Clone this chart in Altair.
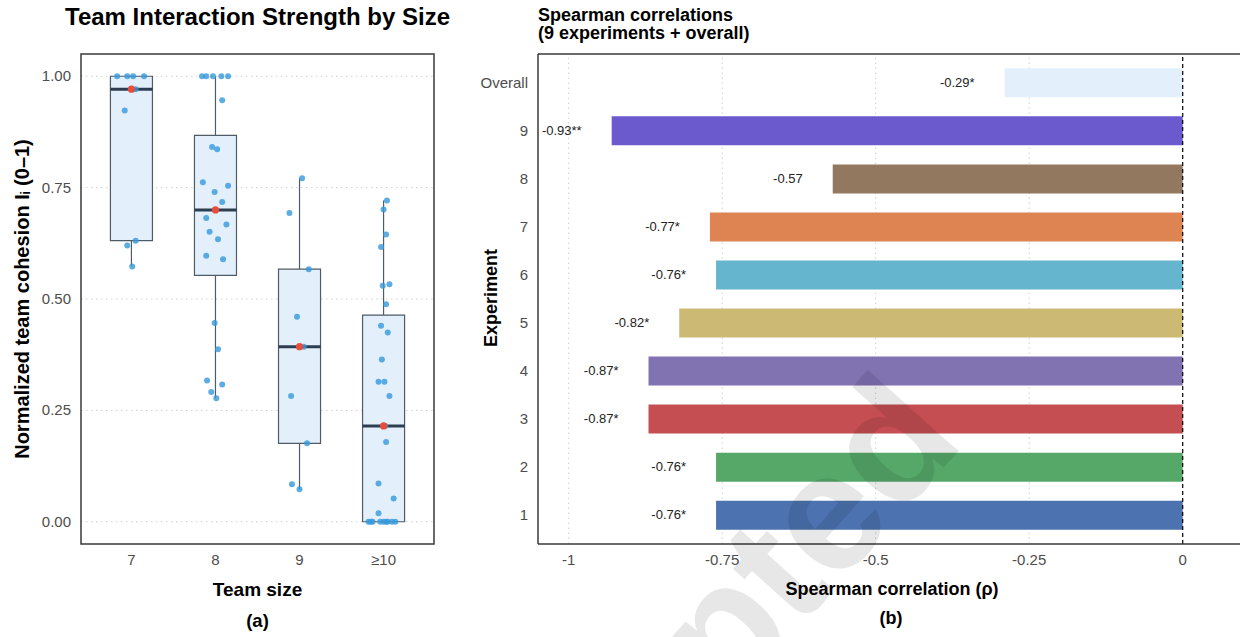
import altair as alt
import numpy as np
import pandas as pd

FONT = "Liberation Sans"
W, H = 1240, 637

# ---------------- panel (a): cohesion by team size ----------------
size_labels = ["7", "8", "9", "≥10"]

cohesion_7 = [1.0, 1.0, 1.0, 1.0, 0.971, 0.923, 0.631, 0.620, 0.573]
jitter_7 = [-0.17, -0.05, 0.02, 0.15, 0.05, -0.08, 0.05, -0.05, 0.01]

cohesion_8 = [1.0, 1.0, 1.0, 1.0, 1.0, 0.946, 0.841, 0.836, 0.762, 0.754, 0.740, 0.718,
              0.682, 0.667, 0.651, 0.634, 0.597, 0.589, 0.446, 0.387, 0.317, 0.308, 0.291, 0.277]
jitter_8 = [-0.16, -0.11, -0.03, 0.07, 0.15, 0.08, -0.04, 0.02, -0.15, 0.15, -0.01, 0.08,
            -0.11, 0.13, -0.07, 0.03, -0.11, 0.09, -0.01, 0.03, -0.10, 0.08, -0.05, 0.01]

cohesion_9 = [0.771, 0.693, 0.567, 0.460, 0.393, 0.282, 0.176, 0.084, 0.073]
jitter_9 = [0.03, -0.12, 0.11, -0.03, 0.05, -0.10, 0.09, -0.09, 0.0]

cohesion_10 = [0.721, 0.701, 0.645, 0.617, 0.533, 0.530, 0.488, 0.440, 0.425, 0.364, 0.314,
               0.314, 0.282, 0.215, 0.179, 0.086, 0.052, 0.019,
               0.0, 0.0, 0.0, 0.0, 0.0, 0.0, 0.0, 0.0, 0.0]
jitter_10 = [0.04, 0.0, 0.03, -0.03, 0.07, -0.01, 0.03, -0.03, 0.05, -0.02, -0.06,
             0.01, 0.07, 0.02, 0.03, -0.06, 0.12, -0.06,
             -0.18, -0.15, -0.13, -0.04, 0.0, 0.03, 0.05, 0.10, 0.14]

groups = [(cohesion_7, jitter_7), (cohesion_8, jitter_8),
          (cohesion_9, jitter_9), (cohesion_10, jitter_10)]

point_rows, stat_rows = [], []
for i, (vals, jit) in enumerate(groups):
    pos = i + 1
    for v, j in zip(vals, jit):
        point_rows.append({"pos": pos + j, "value": v})
    arr = np.array(vals)
    q1, med, q3 = np.percentile(arr, [25, 50, 75])
    iqr = q3 - q1
    lo = arr[arr >= q1 - 1.5 * iqr].min()
    hi = arr[arr <= q3 + 1.5 * iqr].max()
    stat_rows.append({"pos": pos, "left": pos - 0.25, "right": pos + 0.25,
                      "q1": q1, "med": med, "q3": q3, "lo": lo, "hi": hi})
points = pd.DataFrame(point_rows)
stats = pd.DataFrame(stat_rows)

a_ticks = [0, 0.25, 0.5, 0.75, 1.0]
a_tick_labels = ["0.00", "0.25", "0.50", "0.75", "1.00"]

# ---------------- panel (b): Spearman correlations ----------------
experiments = ["1", "2", "3", "4", "5", "6", "7", "8", "9", "Overall"]
rho = [-0.76, -0.76, -0.87, -0.87, -0.82, -0.76, -0.77, -0.57, -0.93, -0.29]
signif = ["*", "*", "*", "*", "*", "*", "*", "", "**", "*"]
bar_colors = ["#4C72B0", "#55A868", "#C44E52", "#8172B2", "#CCB974",
              "#64B5CD", "#DD8452", "#937860", "#6A5ACD", "#E3F0FC"]
b_ticks = [-1, -0.75, -0.5, -0.25, 0]
b_tick_labels = ["-1", "-0.75", "-0.5", "-0.25", "0"]

corr = pd.DataFrame({
    "exp": experiments,
    "row": list(range(1, len(experiments) + 1)),
    "rho": rho,
    "label": [f"{r:.2f}{s}" for r, s in zip(rho, signif)],
})

# ---------------- layout (page pixels) ----------------
A_XRANGE, A_YRANGE = [81, 434], [544, 54]
B_XRANGE, B_YRANGE = [538, 1240], [544, 54]
A_XDOM, A_YDOM = [0.4, 4.6], [-0.05, 1.05]
B_XDOM, B_YDOM = [-1.05, 0.0933], [0.4, 10.6]

LABEL_GREY = "#4D4D4D"
FRAME = "#3A3A3A"
GRID = "#CFCFCF"
one = pd.DataFrame({"k": [0]})

xa = alt.Scale(domain=A_XDOM, range=A_XRANGE, nice=False, zero=False, padding=0)
ya = alt.Scale(domain=A_YDOM, range=A_YRANGE, nice=False, zero=False, padding=0)


def tick_text(**kw):
    return dict(font=FONT, fontSize=15, color=LABEL_GREY, **kw)


def title_text(size, **kw):
    return dict(font=FONT, fontSize=size, fontWeight="bold", color="#000000", **kw)


grid_a = alt.Chart(pd.DataFrame({"v": a_ticks})).mark_rule(
    color=GRID, strokeDash=[1.5, 3.5], strokeWidth=1
).encode(
    y=alt.Y("v:Q", scale=ya, axis=None),
    x=alt.XDatum(A_XDOM[0], scale=xa, axis=None),
    x2=alt.datum(A_XDOM[1]),
)

whisk = alt.Chart(stats).mark_rule(color="#4F5B66", strokeWidth=1.2).encode(
    x=alt.X("pos:Q", scale=xa, axis=None),
    y=alt.Y("lo:Q", scale=ya, axis=None),
    y2="hi:Q",
)

box = alt.Chart(stats).mark_rect(fill="#E3F0FC", stroke="#4F5B66", strokeWidth=1.2).encode(
    x=alt.X("left:Q", scale=xa, axis=None),
    x2="right:Q",
    y=alt.Y("q1:Q", scale=ya, axis=None),
    y2="q3:Q",
)

median = alt.Chart(stats).mark_rule(color="#2C3E50", strokeWidth=3).encode(
    x=alt.X("left:Q", scale=xa, axis=None),
    x2="right:Q",
    y=alt.Y("med:Q", scale=ya, axis=None),
)

dots = alt.Chart(points).mark_circle(color="#3498DB", opacity=0.8, size=36).encode(
    x=alt.X("pos:Q", scale=xa, axis=None),
    y=alt.Y("value:Q", scale=ya, axis=None),
)

med_dot = alt.Chart(stats).mark_circle(color="#E74C3C", opacity=1, size=52).encode(
    x=alt.X("pos:Q", scale=xa, axis=None),
    y=alt.Y("med:Q", scale=ya, axis=None),
)

frame_a = alt.Chart(one).mark_rect(fill="transparent", stroke=FRAME, strokeWidth=1.5).encode(
    x=alt.XDatum(A_XDOM[0], scale=xa, axis=None),
    x2=alt.datum(A_XDOM[1]),
    y=alt.YDatum(A_YDOM[0], scale=ya, axis=None),
    y2=alt.datum(A_YDOM[1]),
)

# tick labels of panel (a), placed through the panel's scales
ylab_a = alt.Chart(pd.DataFrame({"v": a_ticks, "t": a_tick_labels})).mark_text(
    **tick_text(align="right", baseline="middle", dx=-10)
).encode(
    x=alt.XDatum(A_XDOM[0], scale=xa, axis=None),
    y=alt.Y("v:Q", scale=ya, axis=None),
    text="t:N",
)

xlab_a = alt.Chart(pd.DataFrame({"pos": [1, 2, 3, 4], "t": size_labels})).mark_text(
    **tick_text(align="center", baseline="top", dy=9)
).encode(
    x=alt.X("pos:Q", scale=xa, axis=None),
    y=alt.YDatum(A_YDOM[0], scale=ya, axis=None),
    text="t:N",
)

panel_a = alt.layer(grid_a, whisk, box, median, dots, med_dot, frame_a, ylab_a, xlab_a)

# ---------------- panel (b) marks ----------------
xb = alt.Scale(domain=B_XDOM, range=B_XRANGE, nice=False, zero=False, padding=0)
yb = alt.Scale(domain=B_YDOM, range=B_YRANGE, nice=False, zero=False, padding=0)

grid_b = alt.Chart(pd.DataFrame({"v": b_ticks[:-1]})).mark_rule(
    color=GRID, strokeDash=[1.5, 3.5], strokeWidth=1
).encode(
    x=alt.X("v:Q", scale=xb, axis=None),
    y=alt.YDatum(B_YDOM[0], scale=yb, axis=None),
    y2=alt.datum(B_YDOM[1]),
)

bars = alt.Chart(corr).mark_bar(size=29).encode(
    x=alt.X("rho:Q", scale=xb, axis=None),
    x2=alt.datum(0),
    y=alt.Y("row:Q", scale=yb, axis=None),
    color=alt.Color("exp:N", scale=alt.Scale(domain=experiments, range=bar_colors), legend=None),
)

zero_line = alt.Chart(one).mark_rule(color="#000000", strokeDash=[4, 3], strokeWidth=1.2).encode(
    x=alt.XDatum(0, scale=xb, axis=None),
    y=alt.YDatum(B_YDOM[0], scale=yb, axis=None),
    y2=alt.datum(B_YDOM[1]),
)

labels = alt.Chart(corr).mark_text(
    align="right", baseline="middle", dx=-30, fontSize=13, font=FONT, color="#222222"
).encode(
    x=alt.X("rho:Q", scale=xb, axis=None),
    y=alt.Y("row:Q", scale=yb, axis=None),
    text="label:N",
)

# panel (b) frame: top, left and bottom edges
top_edge = alt.Chart(one).mark_rule(color=FRAME, strokeWidth=1.5).encode(
    x=alt.XDatum(B_XDOM[0], scale=xb, axis=None),
    x2=alt.datum(B_XDOM[1]),
    y=alt.YDatum(B_YDOM[1], scale=yb, axis=None),
)
bottom_edge = alt.Chart(one).mark_rule(color=FRAME, strokeWidth=1.5).encode(
    x=alt.XDatum(B_XDOM[0], scale=xb, axis=None),
    x2=alt.datum(B_XDOM[1]),
    y=alt.YDatum(B_YDOM[0], scale=yb, axis=None),
)
left_edge = alt.Chart(one).mark_rule(color=FRAME, strokeWidth=1.5).encode(
    x=alt.XDatum(B_XDOM[0], scale=xb, axis=None),
    y=alt.YDatum(B_YDOM[0], scale=yb, axis=None),
    y2=alt.datum(B_YDOM[1]),
)

ylab_b = alt.Chart(corr).mark_text(
    **tick_text(align="right", baseline="middle", dx=-10)
).encode(
    x=alt.XDatum(B_XDOM[0], scale=xb, axis=None),
    y=alt.Y("row:Q", scale=yb, axis=None),
    text="exp:N",
)

xlab_b = alt.Chart(pd.DataFrame({"v": b_ticks, "t": b_tick_labels})).mark_text(
    **tick_text(align="center", baseline="top", dy=9)
).encode(
    x=alt.X("v:Q", scale=xb, axis=None),
    y=alt.YDatum(B_YDOM[0], scale=yb, axis=None),
    text="t:N",
)

panel_b = alt.layer(grid_b, bars, zero_line, labels, top_edge, bottom_edge, left_edge,
                    ylab_b, xlab_b)

# ---------------- titles, axis titles and watermark ----------------
def free_text(text, x, y, **kw):
    return alt.Chart(one).mark_text(text=text, **kw).encode(x=alt.value(x), y=alt.value(y))


title_a = free_text("Team Interaction Strength by Size", 257.5, 25,
                    **title_text(24, align="center", baseline="alphabetic"))
title_b = free_text(["Spearman correlations", "(9 experiments + overall)"], 538, 20.7,
                    **title_text(18, align="left", baseline="alphabetic", lineHeight=18.6))

xtitle_a = free_text("Team size", 257.5, 590, **title_text(19, align="center", baseline="middle"))
tag_a = free_text("(a)", 257.5, 621, **title_text(18.5, align="center", baseline="middle"))
ytitle_a = free_text("Normalized team cohesion Iᵢ (0–1)", 23, 299,
                     **title_text(20, align="center", baseline="middle", angle=270))

xtitle_b = free_text("Spearman correlation (ρ)", 892, 590,
                     **title_text(18, align="center", baseline="middle"))
tag_b = free_text("(b)", 891, 619, **title_text(18, align="center", baseline="middle"))
ytitle_b = free_text("Experiment", 492, 298,
                     **title_text(18, align="center", baseline="middle", angle=270))

watermark = free_text("Accepted", 676, 690, font=FONT, fontSize=168, fontWeight="bold",
                      angle=312, align="center", baseline="middle", color="#000000",
                      opacity=0.09)

chart = (
    alt.layer(panel_a, panel_b, title_a, title_b, xtitle_a, tag_a, ytitle_a,
              xtitle_b, tag_b, ytitle_b, watermark)
    .resolve_scale(x="independent", y="independent")
    .properties(width=W, height=H, padding=0, autosize=alt.AutoSizeParams(type="none"))
    .configure(font=FONT)
    .configure_view(stroke=None)
)

chart.save("out.html", embed_options={"renderer": "svg", "actions": False})
